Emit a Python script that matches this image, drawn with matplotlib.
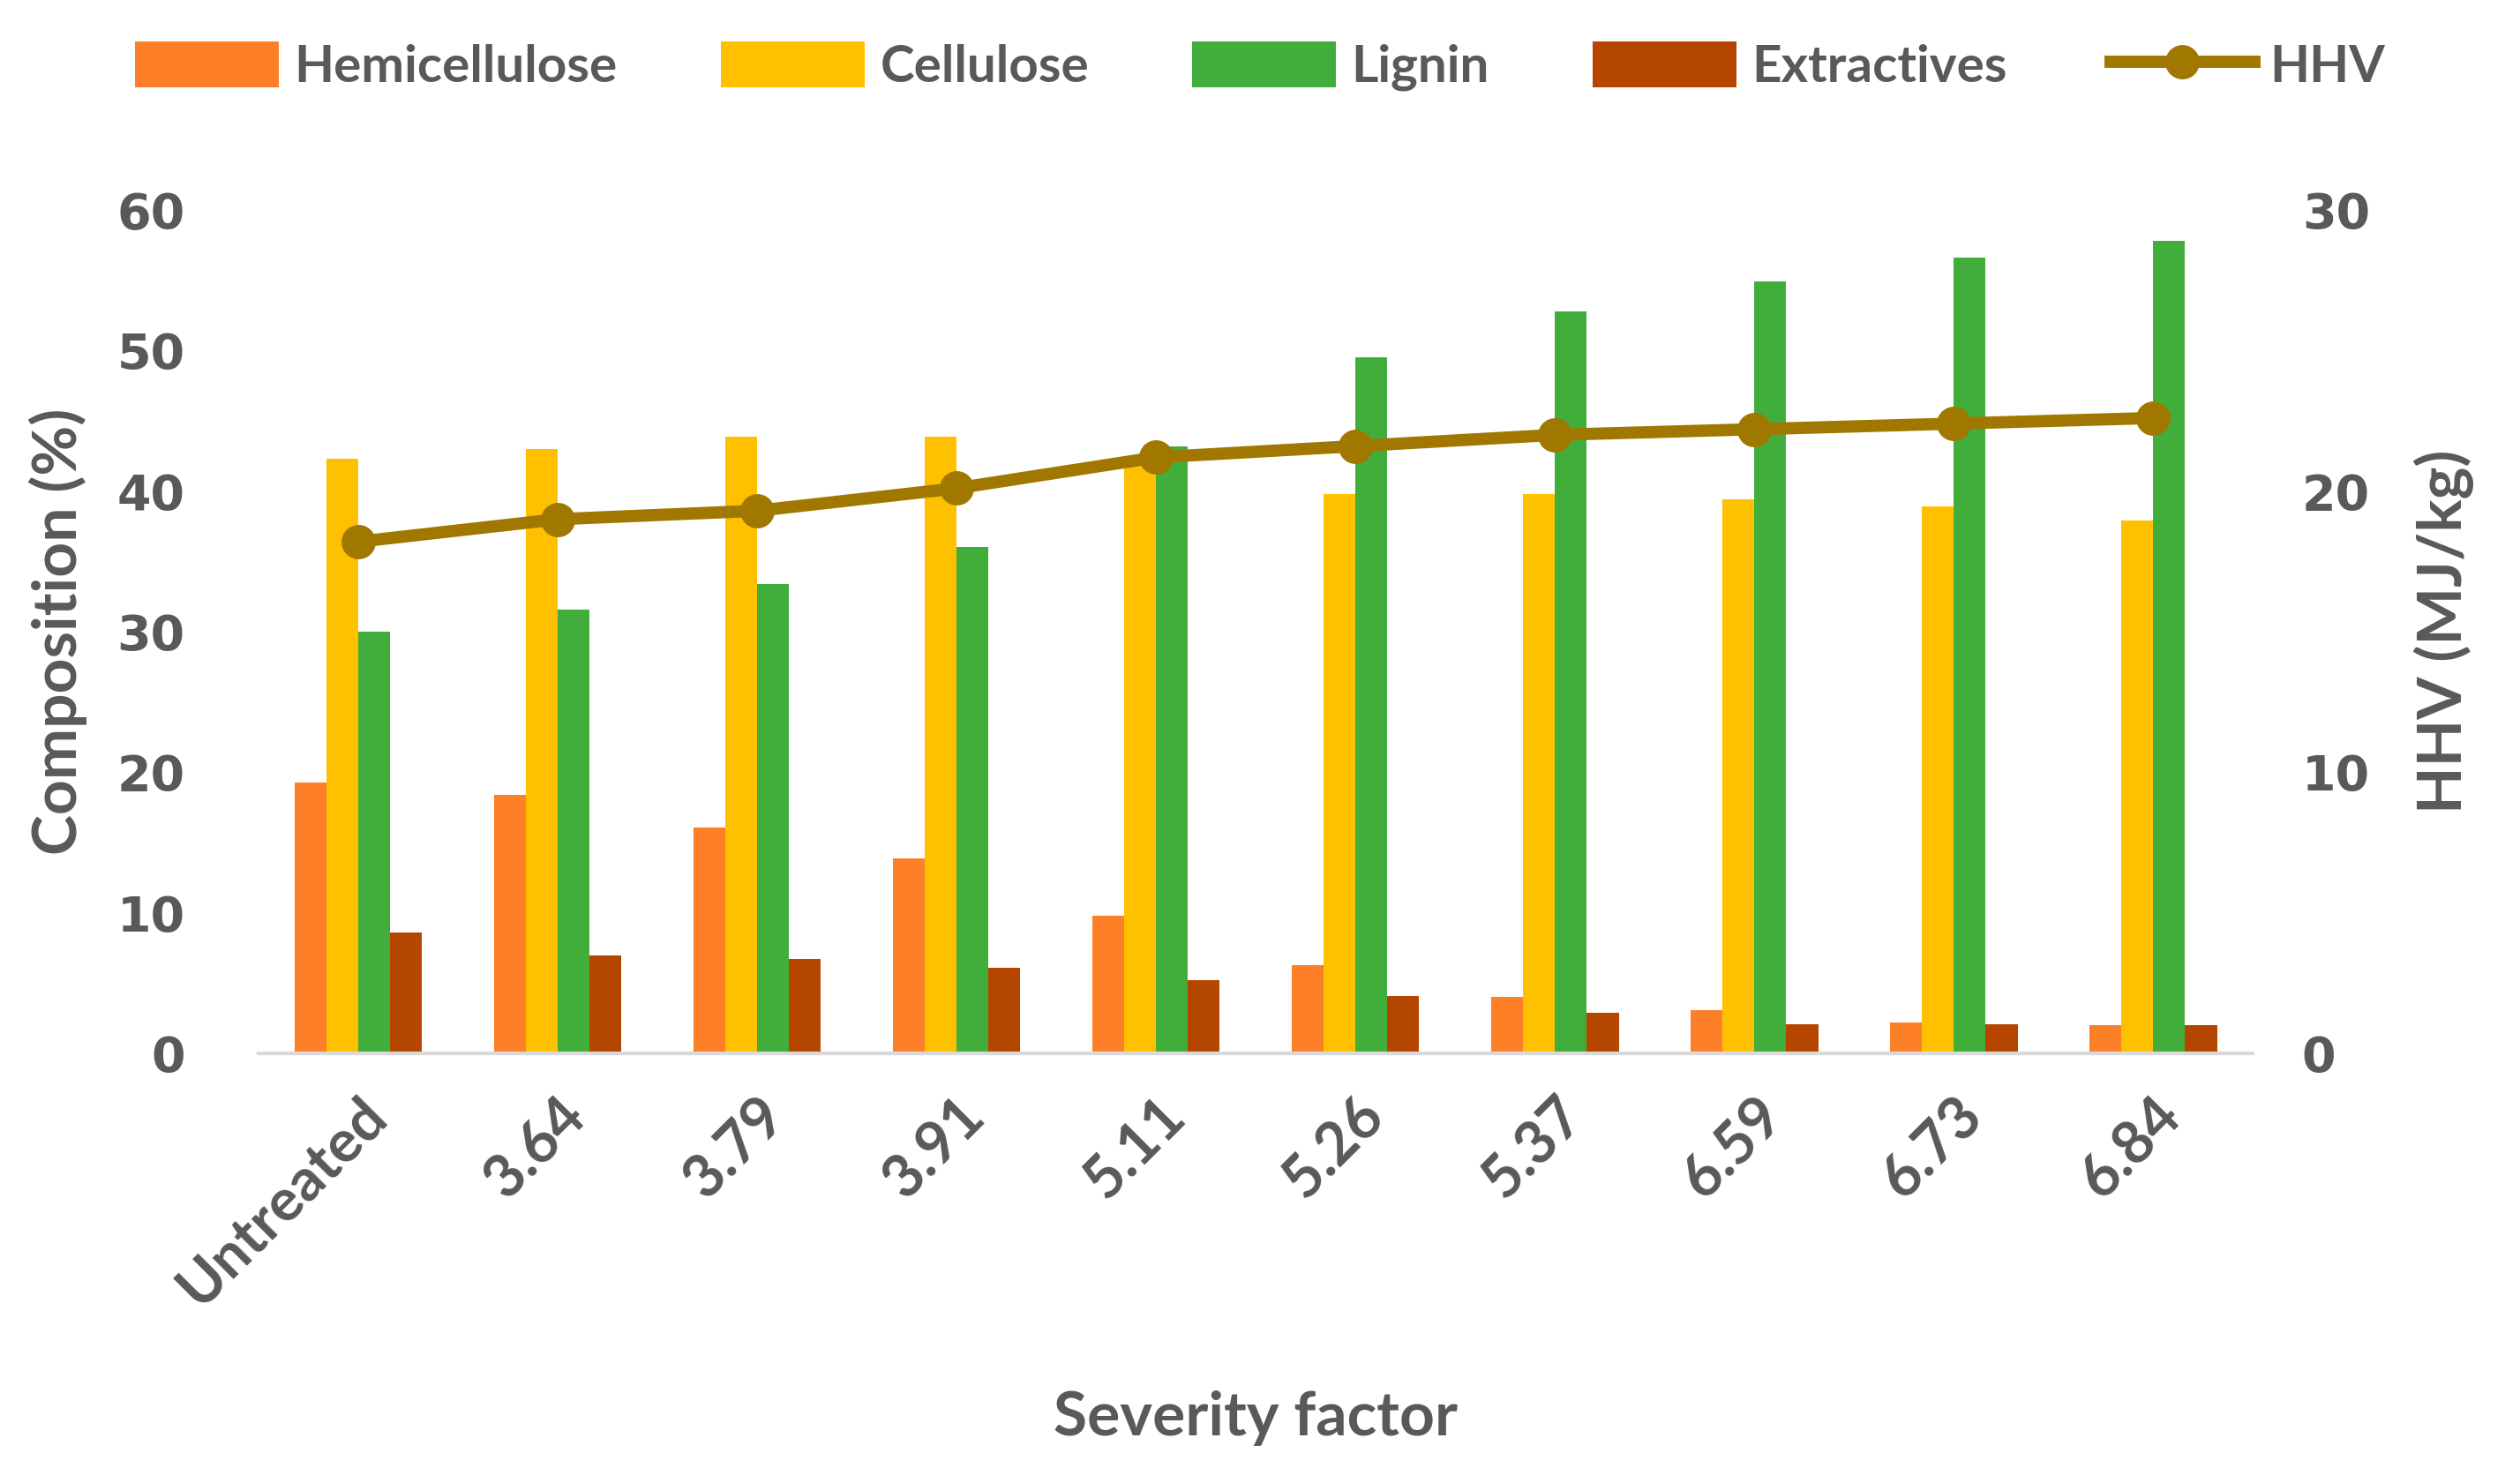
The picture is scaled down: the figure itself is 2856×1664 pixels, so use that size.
import numpy as np
import matplotlib.pyplot as plt

categories = ['Untreated', '3.64', '3.79', '3.91', '5.11', '5.26', '5.37', '6.59', '6.73', '6.84']
hemicellulose = [19.3, 18.4, 16.1, 13.9, 9.8, 6.3, 4.0, 3.1, 2.2, 2.0]
cellulose = [42.3, 43.0, 43.9, 43.9, 41.9, 39.8, 39.8, 39.4, 38.9, 37.9]
lignin = [30.0, 31.6, 33.4, 36.0, 43.2, 49.5, 52.8, 54.9, 56.6, 57.8]
extractives = [8.6, 7.0, 6.7, 6.1, 5.2, 4.1, 2.9, 2.1, 2.1, 2.0]
hhv = [18.2, 19.0, 19.3, 20.1, 21.2, 21.6, 22.0, 22.2, 22.4, 22.6]

text_col = '#595959'
label_font = 'Lato'
tick_font = 'DejaVu Sans'

fig = plt.figure(figsize=(14.28, 8.32), dpi=200)
ax = fig.add_axes([0.1026, 0.2824, 0.7914, 0.5746])
ax2 = ax.twinx()

x = np.arange(len(categories))
w = 0.16
series = [
    ('Hemicellulose', hemicellulose, '#FD7F28'),
    ('Cellulose', cellulose, '#FFC000'),
    ('Lignin', lignin, '#41AE3C'),
    ('Extractives', extractives, '#B54600'),
]
handles = []
for i, (name, vals, col) in enumerate(series):
    b = ax.bar(x + (i - 1.5) * w, vals, width=w, color=col, label=name, zorder=2)
    handles.append(b)

ln, = ax2.plot(x, hhv, color='#A07800', lw=5, marker='o', ms=13, label='HHV', zorder=3)
handles.append(ln)

ax.set_xlim(-0.5, len(categories) - 0.5)
ax.set_ylim(0, 60)
ax2.set_ylim(0, 30)
ax.set_yticks(range(0, 61, 10))
ax2.set_yticks(range(0, 31, 10))

for a in (ax, ax2):
    for s in a.spines.values():
        s.set_visible(False)
    a.tick_params(length=0)
ax.spines['bottom'].set_visible(True)
ax.spines['bottom'].set_color('#D9D9D9')
ax.spines['bottom'].set_linewidth(1.5)

ax.tick_params(axis='y', pad=30)
ax2.tick_params(axis='y', pad=20)
for lab in ax.get_yticklabels() + ax2.get_yticklabels():
    lab.set_fontfamily(tick_font)
    lab.set_fontweight('bold')
    lab.set_fontsize(20)
    lab.set_color(text_col)

ax.set_xticks(x)
ax.set_xticklabels(categories, rotation=45, ha='right', rotation_mode='anchor',
                   fontsize=24, fontweight='bold', family=label_font, color=text_col)
ax.tick_params(axis='x', pad=14)

ax.set_ylabel('Composition (%)', fontsize=25, fontweight='bold', family=label_font,
              color=text_col, labelpad=12)
ax2.set_ylabel('HHV (MJ/kg)', fontsize=25, fontweight='bold', family=label_font,
               color=text_col, rotation=90, labelpad=18)
ax.set_xlabel('Severity factor', fontsize=25, fontweight='bold', family=label_font,
              color=text_col, labelpad=30)

fig.legend(handles=handles, loc='center', bbox_to_anchor=(0.5, 0.955), ncol=5,
           frameon=False, handlelength=2.8, handleheight=1.0, columnspacing=2.0,
           handletextpad=0.3, prop={'family': label_font, 'weight': 'bold', 'size': 21},
           labelcolor=text_col)

fig.savefig('out.png', dpi=200, facecolor='white')
